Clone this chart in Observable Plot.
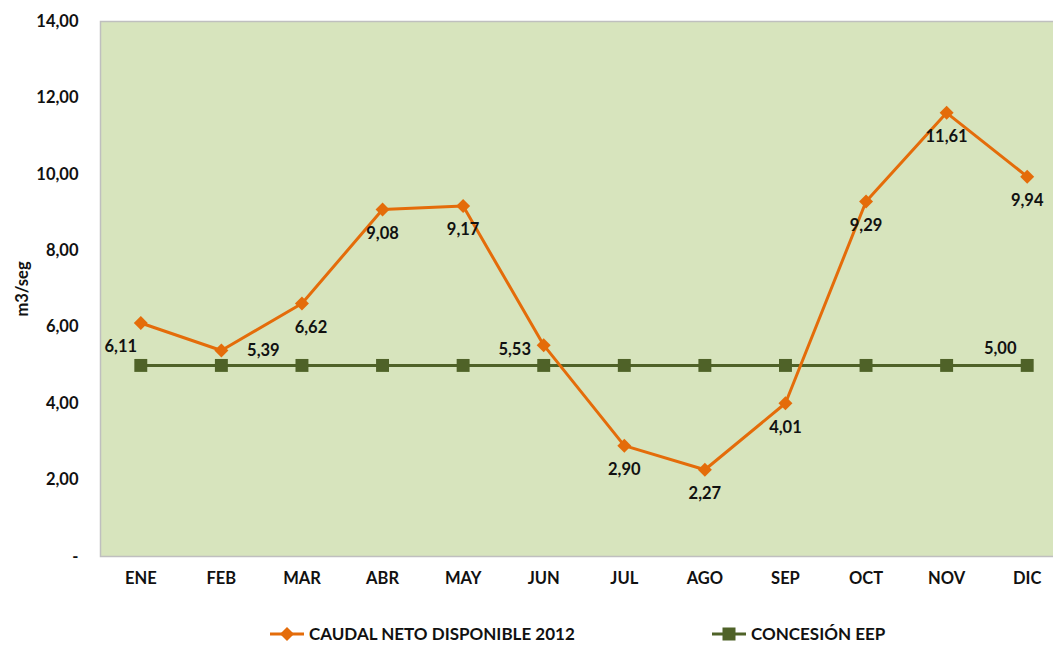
<!DOCTYPE html>
<html>
<head>
<meta charset="utf-8">
<script src="https://cdn.jsdelivr.net/npm/d3@7"></script>
<script src="https://cdn.jsdelivr.net/npm/@observablehq/plot@0.6"></script>
<style>
  body { margin: 0; background: #fff; overflow: hidden; font-family: Lato, "Open Sans", sans-serif; }
  #wrap { position: relative; width: 1053px; height: 645px; }
  #chart svg { overflow: hidden; display: block; }
  .leg { position: absolute; top: 623px; display: flex; align-items: center; font-weight: bold; font-size: 17px; color: #111; }
  .leg svg { margin-right: 3px; }
</style>
</head>
<body>
<div id="wrap">
  <div id="chart"></div>
  <div class="leg" style="left:268px">
    <svg width="38" height="20"><line x1="2" y1="10" x2="36" y2="10" stroke="#E46C0A" stroke-width="3"/><path d="M19,3 L26,10 L19,17 L12,10 Z" fill="#E46C0A"/></svg>
    <span>CAUDAL NETO DISPONIBLE 2012</span>
  </div>
  <div class="leg" style="left:710px">
    <svg width="38" height="20"><line x1="2" y1="10" x2="36" y2="10" stroke="#4F6228" stroke-width="3"/><rect x="12.5" y="3.5" width="13" height="13" fill="#4F6228"/></svg>
    <span>CONCESIÓN EEP</span>
  </div>
</div>
<script>
const months = ["ENE","FEB","MAR","ABR","MAY","JUN","JUL","AGO","SEP","OCT","NOV","DIC"];
const caudal = [6.11, 5.39, 6.62, 9.08, 9.17, 5.53, 2.90, 2.27, 4.01, 9.29, 11.61, 9.94];
const concesion = [5.00, 5.00, 5.00, 5.00, 5.00, 5.00, 5.00, 5.00, 5.00, 5.00, 5.00, 5.00];
const yTicks = [0, 2, 4, 6, 8, 10, 12, 14];
// label placement style for each caudal point
const caudalLabelPos = ["belowLeft","right","belowRight","below","below","left","below","below","below","below","below","below"];

const fmt = v => v === 0 ? "-" : v.toFixed(2).replace(".", ",");

const dataC = months.map((m, i) => ({month: m, value: caudal[i], pos: caudalLabelPos[i]}));
const dataE = months.map((m, i) => ({month: m, value: concesion[i]}));

const offsets = {
  below: {dx: 0, dy: 24},
  belowLeft: {dx: -20, dy: 24},
  belowRight: {dx: 9, dy: 24},
  right: {dx: 42, dy: 0},
  left: {dx: -29, dy: 5}
};

const FS = 16.5;
const labelStyle = {fill: "#111", fontSize: FS, fontWeight: "bold"};
const labelMarks = Object.entries(offsets).map(([k, o]) =>
  Plot.text(dataC.filter(d => d.pos === k), {x: "month", y: "value", text: d => fmt(d.value), dx: o.dx, dy: o.dy, ...labelStyle})
);

const chart = Plot.plot({
  width: 1053,
  height: 600,
  marginLeft: 100,
  marginTop: 21,
  marginBottom: 44,
  marginRight: -14,
  style: {fontFamily: "Lato, 'Open Sans', sans-serif", fontSize: FS + "px", fontWeight: "bold", color: "#111", background: "#fff"},
  x: {type: "point", domain: months, padding: 0.5, round: false},
  y: {domain: [0, 14]},
  marks: [
    Plot.frame({fill: "#D7E4BD", stroke: "#BFBFBF", strokeWidth: 1.5}),
    Plot.axisY({ticks: yTicks, tickFormat: fmt, tickSize: 0, tickPadding: 22, label: "m3/seg", labelAnchor: "center", labelArrow: "none", labelOffset: 84, fontSize: FS}),
    Plot.axisX({tickSize: 0, tickPadding: 16, label: null, fontSize: FS}),
    Plot.line(dataE, {x: "month", y: "value", stroke: "#4F6228", strokeWidth: 3}),
    Plot.dot(dataE, {x: "month", y: "value", symbol: "square", r: 7.3, fill: "#4F6228", stroke: "none"}),
    Plot.line(dataC, {x: "month", y: "value", stroke: "#E46C0A", strokeWidth: 3}),
    Plot.dot(dataC, {x: "month", y: "value", symbol: "diamond2", r: 6.3, fill: "#E46C0A", stroke: "none"}),
    ...labelMarks,
    Plot.text(dataE.filter(d => d.month === "DIC"), {x: "month", y: "value", text: d => fmt(d.value), dx: -27, dy: -17, ...labelStyle})
  ]
});
document.getElementById("chart").appendChild(chart);
</script>
</body>
</html>
